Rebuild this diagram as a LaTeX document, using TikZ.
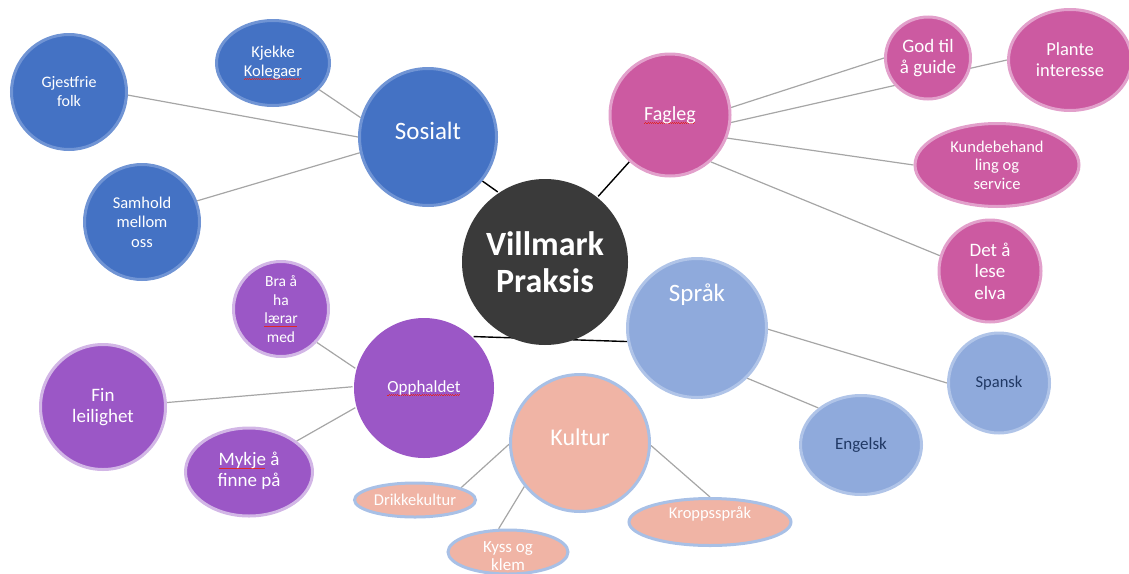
\documentclass[tikz,border=0pt]{standalone}
\usepackage{fontspec}
\setmainfont{Carlito}
\usetikzlibrary{shapes.geometric,backgrounds}

\definecolor{sosfill}{HTML}{4472C4}
\definecolor{sosline}{HTML}{7094D4}
\definecolor{fagfill}{HTML}{CC5AA1}
\definecolor{fagline}{HTML}{E2A0CB}
\definecolor{oppfill}{HTML}{9B57C6}
\definecolor{oppline}{HTML}{D2B6E6}
\definecolor{sprfill}{HTML}{8FAADC}
\definecolor{sprline}{HTML}{B0C4E8}
\definecolor{kulfill}{HTML}{F0B4A5}
\definecolor{kulline}{HTML}{A8C0E6}
\definecolor{hubfill}{HTML}{3A3A3A}
\definecolor{navy}{HTML}{203864}
\definecolor{linkgray}{HTML}{A6A6A6}
\definecolor{spellred}{HTML}{E02828}

% stavefeil-strek under ord
\newsavebox\ordboks
\newcommand\stavefeil[1]{\leavevmode\sbox\ordboks{#1}\rlap{\hbox to \wd\ordboks{\color{spellred}\leaders\hbox{\rule[-3.4pt]{1.1pt}{0.8pt}\rule[-2.6pt]{1.1pt}{0.8pt}}\hfill}}\usebox\ordboks}
\newcommand\fsz[2]{\fontsize{#1}{#2}\selectfont}
\newcommand\flytt[2]{\raisebox{#1}[\height][\depth]{#2}}

\begin{document}
\begin{tikzpicture}[x=1pt, y=-1pt,
    bubble/.style={ellipse, inner sep=-8pt, align=center, text=white, line width=3pt},
    hub/.style={bubble, fill=hubfill, font=\bfseries\fsz{34}{37}},
    sos/.style={bubble, fill=sosfill, draw=sosline},
    fag/.style={bubble, fill=fagfill, draw=fagline},
    opp/.style={bubble, fill=oppfill, draw=oppline},
    spr/.style={bubble, fill=sprfill, draw=sprline},
    kul/.style={bubble, fill=kulfill, draw=kulline},
    link/.style={draw=linkgray, line width=1.2pt},
    hubline/.style={draw=black, line width=1.4pt}
]
    \useasboundingbox (0,0) rectangle (1129,573);

    % Midten
    \node[hub, minimum width=166pt, minimum height=166pt] (villmark) at (545,262) {Villmark\\Praksis};

    % Sosialt
    \node[sos, minimum width=137pt, minimum height=137pt, font=\fsz{25}{30}] (sosialt) at (428,137) {\flytt{6pt}{Sosialt}};
    \node[sos, minimum width=115pt, minimum height=115pt, font=\fsz{16}{19}] (gjestfrie) at (69,92) {Gjestfrie\\folk};
    \node[sos, minimum width=113pt, minimum height=85pt, font=\fsz{16.5}{19}] (kjekke) at (273,63) {Kjekke\\\stavefeil{Kolegaer}};
    \node[sos, minimum width=115pt, minimum height=115pt, font=\fsz{16.5}{19.5}] (samhold) at (142,222) {Samhold\\mellom\\oss};

    % Fagleg
    \node[fag, minimum width=120pt, minimum height=122pt, font=\fsz{20}{24}] (fagleg) at (670,115) {\stavefeil{Fagleg}};
    \node[fag, minimum width=85pt, minimum height=82pt, font=\fsz{19}{21}] (guide) at (928,58) {God til\\å guide};
    \node[fag, minimum width=123pt, minimum height=101pt, font=\fsz{18.5}{21}] (plante) at (1070,60) {Plante\\interesse};
    \node[fag, minimum width=164pt, minimum height=83pt, font=\fsz{16.5}{18.5}] (kunde) at (997,165) {Kundebehand\\ling og\\service};
    \node[fag, minimum width=102pt, minimum height=102pt, font=\fsz{19}{21.5}] (elva) at (990,271) {Det å\\lese\\elva};

    % Opphaldet
    \node[bubble, fill=oppfill, minimum width=140pt, minimum height=140pt, font=\fsz{17}{20}] (opphaldet) at (424,388) {\stavefeil{Opphaldet}};
    \node[opp, minimum width=95pt, minimum height=95pt, font=\fsz{15.5}{18.7}] (laerar) at (281,309) {Bra å\\ha\\\stavefeil{lærar}\\med};
    \node[opp, minimum width=125pt, minimum height=125pt, font=\fsz{19}{20.5}] (leilighet) at (103,407) {Fin\\leilighet};
    \node[opp, minimum width=127pt, minimum height=88pt, font=\fsz{19}{21}] (mykje) at (249,472) {\begin{tabular}{@{}c@{}}\stavefeil{Mykje} å\\finne på\end{tabular}};

    % Språk
    \node[spr, minimum width=139pt, minimum height=139pt] (sprak) at (697,328) {};
    \node[text=white, font=\fsz{25}{30}, inner sep=0pt] (spraktekst) at (697,295) {Språk};
    \node[spr, minimum width=101pt, minimum height=100pt, text=navy, font=\fsz{16.5}{19}] (spansk) at (999,383) {Spansk};
    \node[spr, minimum width=121pt, minimum height=99pt, text=navy, font=\fsz{17}{20}] (engelsk) at (861,445) {Engelsk};

    % Kultur
    \node[kul, minimum width=139pt, minimum height=137pt, font=\fsz{24}{28}] (kultur) at (580,443) {\flytt{6pt}{Kultur}};
    \node[kul, minimum width=121pt, minimum height=34pt, font=\fsz{16.5}{19}] (drikke) at (415,500) {Drikkekultur};
    \node[kul, minimum width=120pt, minimum height=44pt, font=\fsz{17}{18}] (kyss) at (508,552) {\flytt{-6pt}{\begin{tabular}{@{}c@{}}Kyss og\\klem\end{tabular}}};
    \node[kul, minimum width=162pt, minimum height=47pt, font=\fsz{16.5}{19}] (kropp) at (710,522) {\flytt{8pt}{Kroppsspråk}};

    \begin{scope}[on background layer]
        % til midten
        \draw[hubline] (sosialt.-39) -- (villmark.124);
        \draw[hubline] (fagleg.229) -- (villmark.51);
        \draw[hubline] (opphaldet.46) -- (sprak.191);

        \draw[link] (kjekke.-30) -- (sosialt.164);
        \draw[link] (gjestfrie.-3) -- (sosialt.180);
        \draw[link] (samhold.21) -- (sosialt.193);

        \draw[link] (fagleg.7) -- (guide.180);
        \draw[link] (fagleg.-7) -- (plante.180);
        \draw[link] (fagleg.-22) -- (kunde.180);
        \draw[link] (fagleg.-49) -- (elva.163);

        \draw[link] (laerar.-43) -- (opphaldet.164);
        \draw[link] (leilighet.4) -- (opphaldet.179);
        \draw[link] (mykje.33) -- (opphaldet.196);

        \draw[link] (sprak.-1) -- (spansk.180);
        \draw[link] (sprak.-45) -- (engelsk.139);

        \draw[link] (kultur.181) -- (drikke.15);
        \draw[link] (kultur.218) -- (kyss.112);
        \draw[link] (kultur.-2) -- (kropp.90);
    \end{scope}
\end{tikzpicture}
\end{document}
